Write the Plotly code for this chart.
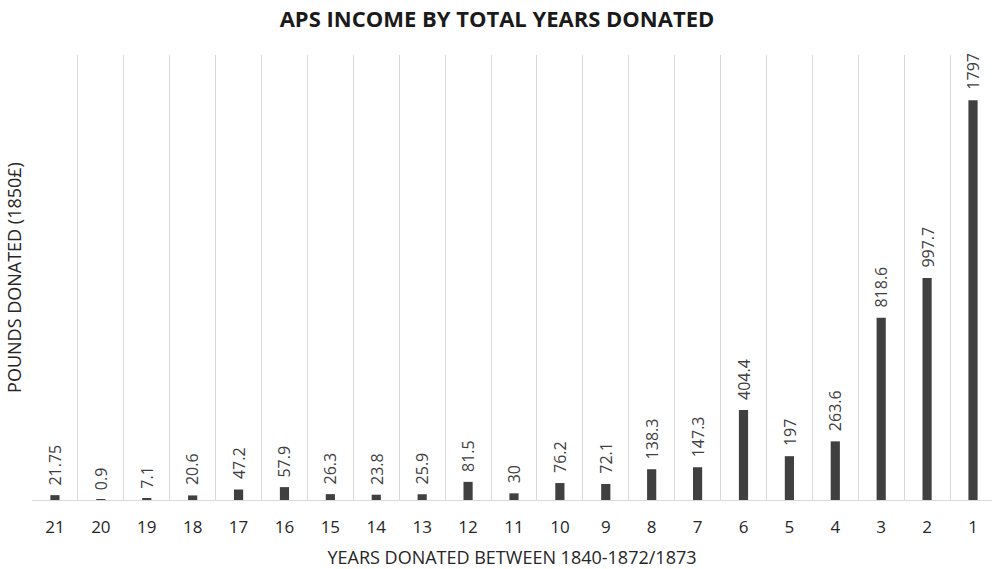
import plotly.graph_objects as go

categories = ["21", "20", "19", "18", "17", "16", "15", "14", "13", "12", "11",
              "10", "9", "8", "7", "6", "5", "4", "3", "2", "1"]
values = [21.75, 0.9, 7.1, 20.6, 47.2, 57.9, 26.3, 23.8, 25.9, 81.5, 30,
          76.2, 72.1, 138.3, 147.3, 404.4, 197, 263.6, 818.6, 997.7, 1797]
labels = ["21.75", "0.9", "7.1", "20.6", "47.2", "57.9", "26.3", "23.8", "25.9", "81.5", "30",
          "76.2", "72.1", "138.3", "147.3", "404.4", "197", "263.6", "818.6", "997.7", "1797"]

fig = go.Figure(go.Bar(
    x=categories, y=values,
    marker=dict(color="#404040", line=dict(width=0)),
    width=0.2, hoverinfo="skip",
))

# value labels above bars (x given as category index on the category axis)
for i, (v, t) in enumerate(zip(values, labels)):
    fig.add_annotation(
        x=i, y=v, text=t, showarrow=False, textangle=-90,
        xanchor="center", yanchor="bottom", yshift=8,
        font=dict(family="Open Sans", size=16, color="#404040"),
    )

fig.update_layout(
    width=992, height=569,
    margin=dict(l=32, r=0, t=55, b=69, autoexpand=False),
    paper_bgcolor="white", plot_bgcolor="white",
    showlegend=False,
    title=dict(text="<b>APS INCOME BY TOTAL YEARS DONATED</b>",
               x=0.501, xanchor="center", y=0.966, yanchor="middle",
               font=dict(family="Open Sans", size=22, color="#1a1a1a")),
    xaxis=dict(
        type="category", range=[-0.5, 20.414], automargin=False,
        tickson="boundaries", showgrid=True, gridcolor="#d9d9d9", gridwidth=1,
        ticks="", showline=True, linecolor="#d9d9d9", linewidth=1,
        tickfont=dict(family="Open Sans", size=17, color="#262626"),
        ticklabelstandoff=12,
        title=dict(text="YEARS DONATED BETWEEN 1840-1872/1873",
                   font=dict(family="Open Sans", size=18, color="#262626"),
                   standoff=14),
    ),
    yaxis=dict(
        range=[0, 2000], showgrid=False, showticklabels=False, ticks="",
        zeroline=False, showline=False, automargin=False,
        title=dict(text="POUNDS DONATED (1850£)",
                   font=dict(family="Open Sans", size=18, color="#262626"),
                   standoff=4),
    ),
)

fig.write_html("out.html",
               config={"displayModeBar": False},
               post_script="document.body.style.margin='0';document.body.style.overflow='hidden';")
